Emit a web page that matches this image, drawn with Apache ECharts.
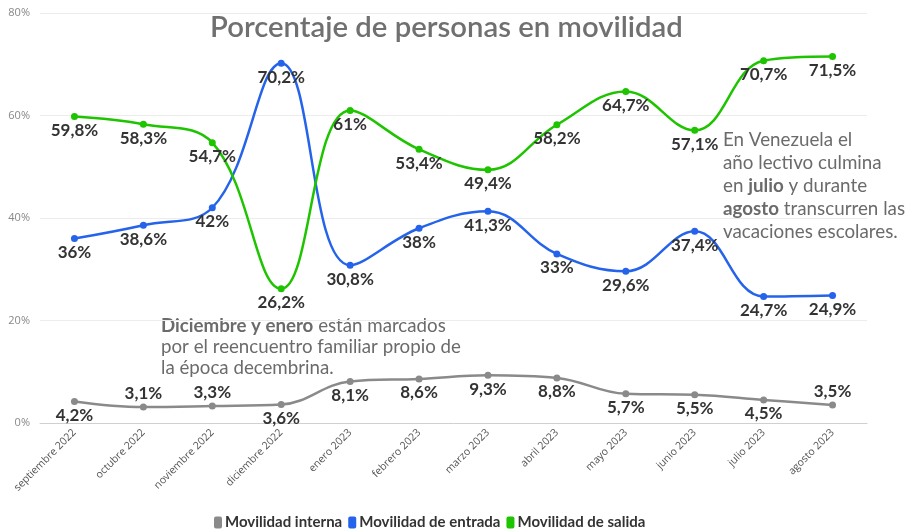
<!DOCTYPE html>
<html>
<head>
<meta charset="utf-8">
<script src="https://cdn.jsdelivr.net/npm/echarts@6/dist/echarts.min.js"></script>
<style>
  html, body { margin: 0; padding: 0; background: #fff; }
  #chart { width: 917px; height: 529px; }
</style>
</head>
<body>
<div id="chart"></div>
<script>
// datos
var meses = ['septiembre 2022', 'octubre 2022', 'noviembre 2022', 'diciembre 2022', 'enero 2023',
  'febrero 2023', 'marzo 2023', 'abril 2023', 'mayo 2023', 'junio 2023', 'julio 2023', 'agosto 2023'];
var interna = [4.2, 3.1, 3.3, 3.6, 8.1, 8.6, 9.3, 8.8, 5.7, 5.5, 4.5, 3.5];
var entrada = [36, 38.6, 42, 70.2, 30.8, 38, 41.3, 33, 29.6, 37.4, 24.7, 24.9];
var salida = [59.8, 58.3, 54.7, 26.2, 61, 53.4, 49.4, 58.2, 64.7, 57.1, 70.7, 71.5];
var ticksY = [0, 20, 40, 60, 80];

//etiquetas de la serie gris que van arriba
var internaArriba = [1, 2, 11];

var fmt = function (v) {
    return String(v).replace('.', ',') + '%';
};

function serie(nombre, datos, color, arriba) {
    return {
        name: nombre,
        type: 'line',
        smooth: 0.4,
        symbol: 'circle',
        symbolSize: 7,
        lineStyle: { width: 2.5, color: color },
        itemStyle: { color: color },
        data: datos.map(function (v, i) {
            return {
                value: v,
                label: { position: (arriba || []).indexOf(i) > -1 ? 'top' : 'bottom' }
            };
        }),
        label: {
            show: true,
            distance: 2,
            formatter: function (p) { return fmt(p.value); },
            fontFamily: 'Lato',
            fontWeight: 'bold',
            fontSize: 17,
            color: '#333'
        },
        emphasis: { disabled: true }
    };
}

var chart = echarts.init(document.getElementById('chart'));
chart.setOption({
    animation: false,
    textStyle: { fontFamily: 'Lato' },
    title: {
        text: 'Porcentaje de personas en movilidad',
        left: 205,
        top: 8,
        textStyle: { fontFamily: 'Lato', fontWeight: 600, fontSize: 29.3, color: '#707070' }
    },
    grid: { left: 40, right: 50, top: 13, bottom: 106 },
    legend: {
        top: 510,
        left: 209,
        itemWidth: 8,
        itemHeight: 12,
        itemGap: 6,
        icon: 'roundRect',
        textStyle: { fontFamily: 'Lato', fontWeight: 'bold', fontSize: 15, color: '#333', padding: [0, 0, 0, -2] },
        data: ['Movilidad interna', 'Movilidad de entrada', 'Movilidad de salida']
    },
    xAxis: {
        type: 'category',
        data: meses,
        boundaryGap: true,
        axisLine: { lineStyle: { color: '#d0d0d0' } },
        axisTick: { alignWithLabel: true, lineStyle: { color: '#d0d0d0' } },
        axisLabel: { rotate: 45, fontSize: 10.5, color: '#555', fontFamily: 'Open Sans', margin: 8 }
    },
    yAxis: {
        type: 'value',
        min: ticksY[0],
        max: ticksY[ticksY.length - 1],
        interval: 20,
        axisLabel: { formatter: '{value}%', fontSize: 11, color: '#888', fontFamily: 'Open Sans', margin: 10 },
        splitLine: { lineStyle: { color: '#ececec' } },
        axisLine: { show: false },
        axisTick: { show: false }
    },
    series: [
        serie('Movilidad interna', interna, '#8a8a8a', internaArriba),
        serie('Movilidad de entrada', entrada, '#2563eb'),
        serie('Movilidad de salida', salida, '#1ec400')
    ],
    graphic: [
        {
            type: 'text',
            left: 161,
            top: 315,
            style: {
                text: '{b|Diciembre y enero} están marcados\npor el reencuentro familiar propio de\nla época decembrina.',
                font: '18.7px Lato',
                fill: '#6b6b6b',
                lineHeight: 21,
                rich: {
                    b: { fontFamily: 'Lato', fontWeight: 'bold', fontSize: 18.7, fill: '#6b6b6b', lineHeight: 21 }
                }
            }
        },
        {
            type: 'text',
            left: 723,
            top: 128,
            style: {
                text: 'En Venezuela el\naño lectivo culmina\nen {b|julio} y durante\n{b|agosto} transcurren las\nvacaciones escolares.',
                font: '18.8px Lato',
                fill: '#6b6b6b',
                lineHeight: 23,
                rich: {
                    b: { fontFamily: 'Lato', fontWeight: 'bold', fontSize: 18.8, fill: '#6b6b6b', lineHeight: 23 }
                }
            }
        }
    ]
});
</script>
</body>
</html>
